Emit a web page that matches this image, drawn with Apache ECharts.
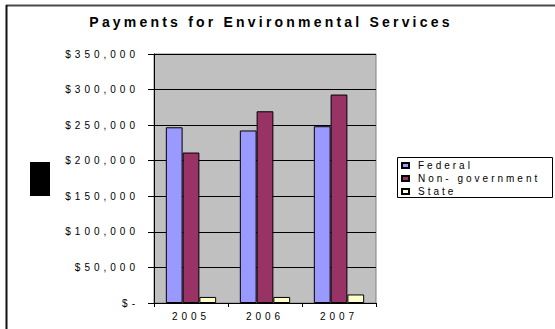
<!DOCTYPE html>
<html><head><meta charset="utf-8">
<script src="https://cdn.jsdelivr.net/npm/echarts@6/dist/echarts.min.js"></script>
<style>
html,body{margin:0;padding:0;background:#fff;}
#c{width:555px;height:329px;}
#c text{letter-spacing:3.8px;}
#c text[style*="Arial"]{letter-spacing:4px;}
#c text[style*="Liberation Sans"]{letter-spacing:3px;}
#c text[style*="bold"]{letter-spacing:3.2px;}
</style></head><body><div id="c"></div>
<script>
const titleText = 'Payments for Environmental Services';
const categories = ['2005', '2006', '2007'];
const seriesNames = ['Federal', 'Non- government', 'State'];
const federal = [247000, 242500, 248500];
const nonGovernment = [211500, 269500, 293000];
const state = [8500, 8500, 12000];
const yTickLabels = ['$-', '$50,000', '$100,000', '$150,000', '$200,000', '$250,000', '$300,000', '$350,000'];
const colors = ['#9999FF', '#993366', '#FFFFCC'];

const AXIS_FONT = 'Arial, sans-serif';
const LEGEND_FONT = '"Liberation Sans", sans-serif';
const chart = echarts.init(document.getElementById('c'), null, {renderer: 'svg'});
const seriesData = [federal, nonGovernment, state];

chart.setOption({
  animation: false,
  backgroundColor: '#ffffff',
  graphic: [
    {type: 'line', shape: {x1: 6, y1: 5.5, x2: 560, y2: 5.5}, style: {stroke: '#4a4a4a', lineWidth: 2}},
    {type: 'line', shape: {x1: 6.5, y1: 5, x2: 6.5, y2: 335}, style: {stroke: '#111111', lineWidth: 2}},
    {type: 'rect', shape: {x: 30, y: 162, width: 20, height: 34}, style: {fill: '#000000'}},
    {type: 'rect', shape: {x: 397.5, y: 157.5, width: 155, height: 40}, style: {fill: 'none', stroke: '#000000', lineWidth: 1}},
    {type: 'text', x: 271, y: 22, style: {text: titleText, font: 'bold 14px Arial, sans-serif', fill: '#000', textAlign: 'center', textVerticalAlign: 'middle'}}
  ],
  grid: {left: 154, top: 54, width: 222, height: 249, show: true, backgroundColor: '#C0C0C0', borderColor: '#808080', borderWidth: 1},
  legend: {
    orient: 'vertical', left: 401, top: 160.5, padding: 0,
    itemWidth: 7, itemHeight: 5, itemGap: 3,
    icon: 'rect',
    data: seriesNames,
    textStyle: {fontSize: 10, lineHeight: 10, color: '#000', fontFamily: LEGEND_FONT, padding: [0, 0, 0, 4]}
  },
  xAxis: {
    type: 'category', data: categories,
    axisLine: {lineStyle: {color: '#000', width: 1}},
    axisTick: {show: true, length: 4, interval: 0, lineStyle: {color: '#000'}},
    axisLabel: {color: '#000', fontSize: 10, fontFamily: AXIS_FONT, margin: 8}
  },
  yAxis: {
    type: 'value', min: 0, max: 350000, interval: 50000,
    axisLine: {show: true, lineStyle: {color: '#000', width: 1}},
    axisTick: {show: true, length: 6, lineStyle: {color: '#000'}},
    splitLine: {show: true, lineStyle: {color: '#000', width: 1}},
    axisLabel: {color: '#000', fontSize: 10, fontFamily: AXIS_FONT, margin: 15,
      formatter: (v, i) => yTickLabels[i]}
  },
  series: seriesNames.map((name, k) => ({
    name, type: 'bar', data: seriesData[k],
    barGap: '0%', barCategoryGap: '32%',
    itemStyle: {color: colors[k], borderColor: '#000', borderWidth: 1}
  }))
});
</script></body></html>
